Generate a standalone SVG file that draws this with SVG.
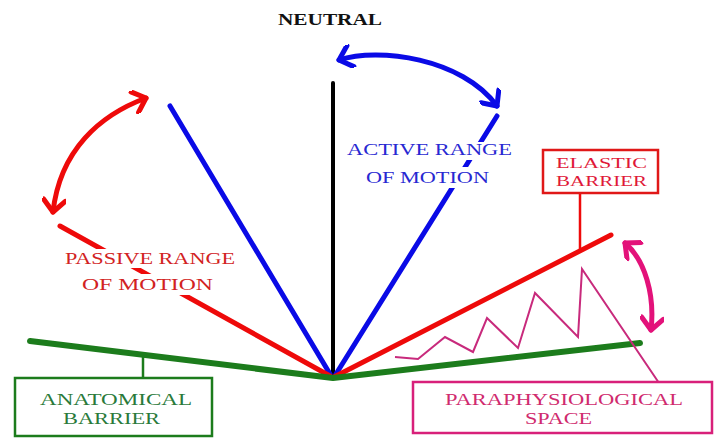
<svg xmlns="http://www.w3.org/2000/svg" width="715" height="438" viewBox="0 0 715 438">
<style>
text{font-family:"Liberation Serif","DejaVu Serif",serif;text-anchor:start}
.ln{fill:none;stroke-linecap:round;stroke-linejoin:round}
.blue{stroke:#0a0ae6;stroke-width:5}
.red{stroke:#ee0a0a;stroke-width:5}
.green{stroke:#1c7c1c;stroke-width:6}
.black{stroke:#000;stroke-width:4}
.pink{stroke:#e3127a;stroke-width:5}
.bg{fill:#fff}
.box{fill:#fff;stroke-width:2.5}
</style>
<defs>
<marker id="hb" markerUnits="userSpaceOnUse" viewBox="0 0 20 24" refX="16" refY="12" markerWidth="20" markerHeight="24" orient="auto-start-reverse">
<path d="M4,1 L16,12 L4,23" fill="none" stroke="#0a0ae6" stroke-width="5" stroke-linecap="round" stroke-linejoin="round"/>
</marker>
<marker id="hr" markerUnits="userSpaceOnUse" viewBox="0 0 20 24" refX="16" refY="12" markerWidth="20" markerHeight="24" orient="auto-start-reverse">
<path d="M4,1 L16,12 L4,23" fill="none" stroke="#ee0a0a" stroke-width="5" stroke-linecap="round" stroke-linejoin="round"/>
</marker>
<marker id="hp" markerUnits="userSpaceOnUse" viewBox="0 0 20 24" refX="16" refY="12" markerWidth="20" markerHeight="24" orient="auto-start-reverse">
<path d="M4,1 L16,12 L4,23" fill="none" stroke="#e3127a" stroke-width="5" stroke-linecap="round" stroke-linejoin="round"/>
</marker>
</defs>
<rect width="715" height="438" fill="#fff"/>
<g id="connectors">
<line class="ln black" x1="333" y1="83" x2="333" y2="374"/>
<line class="ln blue" x1="170" y1="106" x2="330" y2="374"/>
<line class="ln blue" x1="497" y1="116" x2="336" y2="374"/>
<line class="ln red" x1="60" y1="226" x2="330" y2="376"/>
<line class="ln red" x1="334" y1="377" x2="611" y2="235"/>
<polyline class="ln green" points="30,341 333,378 640,343"/>
<path class="ln blue" d="M339,60 C378,47 462,58 497,106" marker-start="url(#hb)" marker-end="url(#hb)"/>
<path class="ln red" d="M146,98 C100,115 60,150 53,212" marker-start="url(#hr)" marker-end="url(#hr)"/>
<path class="ln pink" d="M625,243 C645,260 655,295 651,330" marker-start="url(#hp)" marker-end="url(#hp)"/>
<polyline fill="none" stroke="#c82a7c" stroke-width="2" stroke-linejoin="miter" points="395,357 418,359 445,337 473,352 487,318 518,348 535,293 578,337 582,269 659,383"/>
<line stroke="#1c7c1c" stroke-width="2.5" x1="143" y1="355" x2="143" y2="378"/>
<line stroke="#ee0a0a" stroke-width="2.5" x1="580" y1="193" x2="580" y2="252"/>
</g>
<g id="neutral">
<text x="278" y="25" font-size="16" font-weight="bold" fill="#111" textLength="104" lengthAdjust="spacingAndGlyphs">NEUTRAL</text>
</g>
<g id="active-range">
<rect class="bg" x="345" y="142" width="170" height="18"/>
<rect class="bg" x="363" y="167" width="130" height="21"/>
<text x="347" y="155" font-size="16" fill="#2828d2" textLength="165" lengthAdjust="spacingAndGlyphs">ACTIVE RANGE</text>
<text x="366" y="183" font-size="17" fill="#2828d2" textLength="123" lengthAdjust="spacingAndGlyphs">OF MOTION</text>
</g>
<g id="passive-range">
<rect class="bg" x="62" y="249" width="176" height="19"/>
<rect class="bg" x="79" y="274" width="137" height="21"/>
<text x="65" y="264" font-size="16" fill="#d22222" textLength="170" lengthAdjust="spacingAndGlyphs">PASSIVE RANGE</text>
<text x="82" y="290" font-size="17" fill="#d22222" textLength="131" lengthAdjust="spacingAndGlyphs">OF MOTION</text>
</g>
<g id="elastic-barrier">
<rect class="box" stroke="#e01818" x="543" y="150" width="115" height="43"/>
<text x="556" y="168" font-size="14" fill="#e01838" textLength="91" lengthAdjust="spacingAndGlyphs">ELASTIC</text>
<text x="556" y="186" font-size="14" fill="#e01838" textLength="91" lengthAdjust="spacingAndGlyphs">BARRIER</text>
</g>
<g id="anatomical-barrier">
<rect class="box" stroke="#1c7c1c" x="15" y="378" width="197" height="58"/>
<text x="40" y="405" font-size="16" fill="#2a7a3a" textLength="152" lengthAdjust="spacingAndGlyphs">ANATOMICAL</text>
<text x="63" y="424" font-size="16" fill="#2a7a3a" textLength="97" lengthAdjust="spacingAndGlyphs">BARRIER</text>
</g>
<g id="paraphysiological-space">
<rect class="box" stroke="#d8207a" x="413" y="382" width="299" height="51"/>
<text x="445" y="405" font-size="16" fill="#d02a6e" textLength="238" lengthAdjust="spacingAndGlyphs">PARAPHYSIOLOGICAL</text>
<text x="525" y="424" font-size="16" fill="#d02a6e" textLength="67" lengthAdjust="spacingAndGlyphs">SPACE</text>
</g>
</svg>
